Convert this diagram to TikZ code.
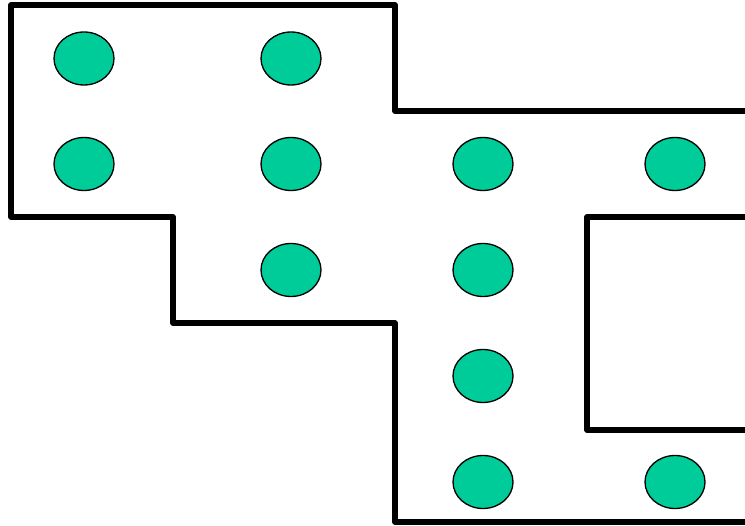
\documentclass[tikz,border=0pt]{standalone}
\usepackage{xcolor}
\usepackage{tikz}
\usetikzlibrary{shapes.geometric}
\definecolor{dotgreen}{RGB}{0, 204, 153}
\tikzset{
    wall/.style ={draw=black, line width=2.9pt, line join=round},
    dot/.style  ={draw=black, line width=0.75pt, fill=dotgreen, ellipse,
                  minimum width=1.2cm, minimum height=1.06cm, inner sep=0pt}
}
\begin{document}
\begin{tikzpicture}
  \useasboundingbox (0,0) rectangle (14.9,-10.52);
  % outline
  \draw[wall] (14.9,-2.22) -- (7.9,-2.22) -- (7.9,-0.1) -- (0.22,-0.1)
              -- (0.22,-4.34) -- (3.46,-4.34) -- (3.46,-6.46)
              -- (7.9,-6.46) -- (7.9,-10.44) -- (14.9,-10.44);
  % inner block
  \draw[wall] (14.9,-4.34) -- (11.74,-4.34) -- (11.74,-8.6) -- (14.9,-8.6);

  % row 1
  \node[dot] (d11) at (1.68,-1.17) {};
  \node[dot] (d12) at (5.82,-1.17) {};
  % row 2
  \node[dot] (d21) at (1.68,-3.28) {};
  \node[dot] (d22) at (5.82,-3.28) {};
  \node[dot] (d23) at (9.66,-3.28) {};
  \node[dot] (d24) at (13.5,-3.28) {};
  % row 3
  \node[dot] (d32) at (5.82,-5.4) {};
  \node[dot] (d33) at (9.66,-5.4) {};
  % row 4
  \node[dot] (d43) at (9.66,-7.52) {};
  % row 5
  \node[dot] (d53) at (9.66,-9.64) {};
  \node[dot] (d54) at (13.5,-9.64) {};
\end{tikzpicture}
\end{document}
